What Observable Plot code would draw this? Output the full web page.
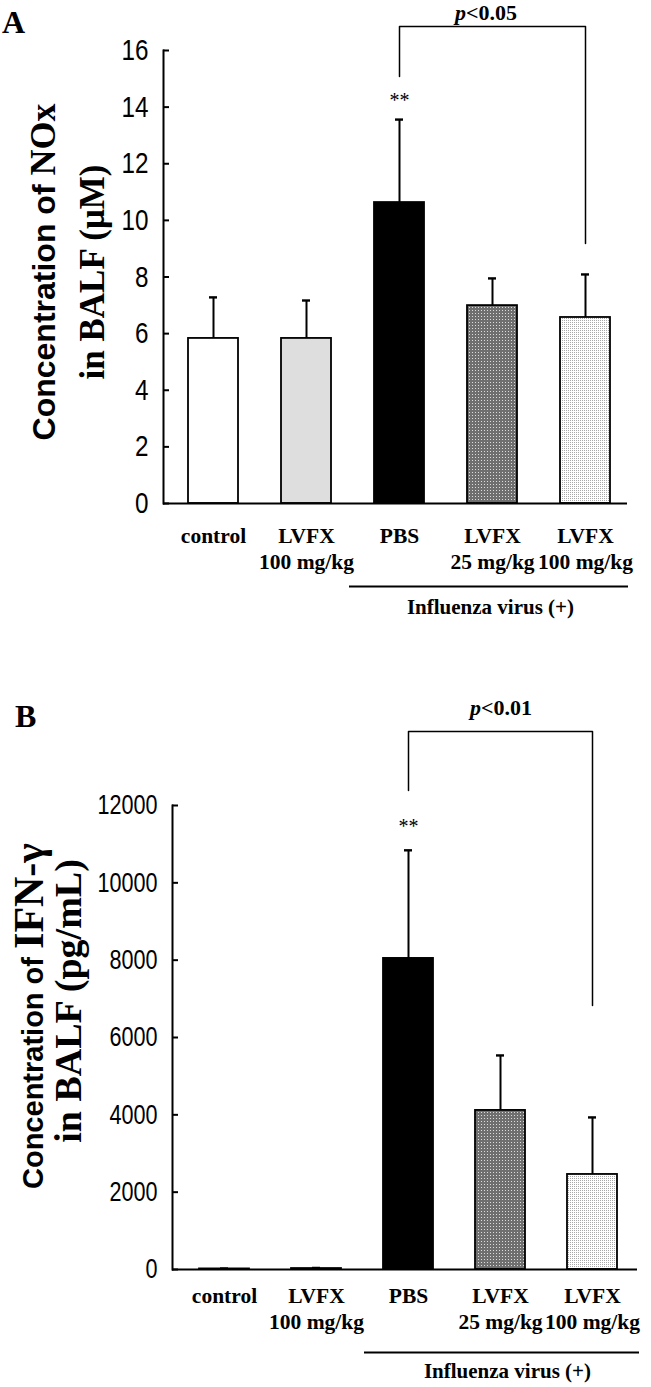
<!DOCTYPE html>
<html><head><meta charset="utf-8">
<script src="https://cdn.jsdelivr.net/npm/d3@7"></script>
<script src="https://cdn.jsdelivr.net/npm/@observablehq/plot@0.6"></script>
<style>
html,body{margin:0;padding:0;background:#fff;}
#chart{width:651px;height:1387px;overflow:hidden;background:#fff;}
svg{display:block}
</style></head><body><div id="chart"></div>
<script>
// ---- data ----
const groupIds = ["control", "LVFX100", "PBS", "LVFX25i", "LVFX100i"];
const groupLabels = ["control", "LVFX\n100 mg/kg", "PBS", "LVFX\n25 mg/kg", "LVFX\n100 mg/kg"];
const noxMean = [5.83, 5.83, 10.63, 6.99, 6.57];
const noxSD = [1.45, 1.34, 2.93, 0.96, 1.52];
const ifnMean = [15, 25, 8045, 4114, 2458];
const ifnSD = [10, 15, 2796, 1422, 1475];
const noxTicks = [0, 2, 4, 6, 8, 10, 12, 14, 16];
const ifnTicks = [0, 2000, 4000, 6000, 8000, 10000, 12000];
// significance brackets
const bracketNox = [{id: "PBS", v: 15.08}, {id: "PBS", v: 16.85}, {id: "LVFX100i", v: 16.85}, {id: "LVFX100i", v: 9.18}];
const bracketIfn = [{id: "PBS", v: 12390}, {id: "PBS", v: 13914}, {id: "LVFX100i", v: 13914}, {id: "LVFX100i", v: 6830}];
const starGroup = ["PBS"];
const virusSpan = [{from: "PBS", mid: "LVFX25i", to: "LVFX100i", label: "Influenza virus (+)"}];

// ---- styles ----
const serif = "'Liberation Serif','Times New Roman',Times,serif";
const sans = "'Liberation Sans',Arial,Helvetica,sans-serif";
const labelOf = Object.fromEntries(groupIds.map((id, i) => [id, groupLabels[i]]));

function defs(svg, key) {
  const d = d3.select(svg).insert("defs", ":first-child");
  const dk = d.append("pattern").attr("id", "dark" + key).attr("width", 3).attr("height", 3).attr("patternUnits", "userSpaceOnUse");
  dk.append("rect").attr("width", 3).attr("height", 3).attr("fill", "#6f6f6f");
  dk.append("rect").attr("x", 1).attr("y", 1).attr("width", 1).attr("height", 1).attr("fill", "#dcdcdc");
  const lt = d.append("pattern").attr("id", "light" + key).attr("width", 2).attr("height", 2).attr("patternUnits", "userSpaceOnUse");
  lt.append("rect").attr("width", 2).attr("height", 2).attr("fill", "#ffffff");
  lt.append("rect").attr("x", 0).attr("y", 0).attr("width", 1).attr("height", 1).attr("fill", "#a9a9a9");
}

function addText(svg, {x, y, rotate = 0, anchor = "middle", parts}) {
  const t = d3.select(svg).append("text")
    .attr("transform", `translate(${x},${y})` + (rotate ? ` rotate(${rotate})` : ""))
    .attr("text-anchor", anchor).attr("fill", "#000");
  for (const p of parts) {
    t.append("tspan").attr("font-family", p.family).attr("font-size", p.size)
      .attr("font-weight", p.weight || "bold").attr("font-style", p.style || "normal").text(p.text);
  }
}

// condense the y tick labels (the original uses a narrow gothic face)
function condenseTicks(svg, perChar) {
  d3.select(svg).selectAll('[aria-label="y-axis tick label"] text').each(function () {
    const s = this.textContent;
    this.setAttribute("textLength", s.length * perChar);
    this.setAttribute("lengthAdjust", "spacingAndGlyphs");
  });
}

function panel(c) {
  const fills = {control: "#ffffff", LVFX100: "#dedede", PBS: "#000000", LVFX25i: `url(#dark${c.key})`, LVFX100i: `url(#light${c.key})`};
  const data = groupIds.map((id, i) => ({id, v: c.mean[i], e: c.mean[i] + c.sd[i]}));
  const stars = data.filter(d => starGroup.includes(d.id));
  const svg = Plot.plot({
    width: 651, height: c.height,
    marginLeft: c.ml, marginRight: c.mr, marginTop: c.mt, marginBottom: c.mb,
    style: {background: "#fff", color: "#000", fontFamily: serif, overflow: "visible"},
    x: {type: "band", domain: groupIds, paddingInner: c.pi, paddingOuter: c.po, align: c.align, axis: null},
    y: {domain: c.ydomain, axis: null},
    color: {type: "identity"},
    marks: [
      Plot.barY(data, {x: "id", y: "v", fill: d => fills[d.id], stroke: "#000", strokeWidth: 1.8}),
      Plot.ruleX(data, {x: "id", y1: "v", y2: "e", strokeWidth: 2}),
      Plot.tickY(data, {x: "id", y: "e", strokeWidth: 2.4, insetLeft: 21, insetRight: 21}),
      Plot.axisY(c.ticks, {anchor: "left", tickSize: -6, tickPadding: 21, strokeWidth: 2, tickFormat: d => String(d), fontSize: c.tickFont, fontFamily: sans, label: null}),
      Plot.axisX({anchor: "bottom", tickSize: 0, tickPadding: c.xpad, tickFormat: id => labelOf[id], fontSize: 21.5, fontWeight: "bold", fontFamily: serif, lineHeight: c.lh, label: null}),
      Plot.frame({anchor: "left", strokeWidth: 2}),
      Plot.ruleY([0], {strokeWidth: 2}),
      Plot.line(c.bracket, {x: "id", y: "v", strokeWidth: 1.5}),
      Plot.text(stars, {x: "id", y: "e", text: () => "**", dy: c.starDy, fontSize: 20, fontFamily: serif}),
      Plot.ruleY(virusSpan, {x1: "from", x2: "to", y: () => 0, dy: 83, insetLeft: c.gInL, insetRight: c.gInR, strokeWidth: 1.8}),
      Plot.text(virusSpan, {x: "mid", y: () => 0, text: "label", dy: c.gTextDy, dx: c.gTextDx, fontSize: 21, fontWeight: "bold", fontFamily: serif})
    ]
  });
  defs(svg, c.key);
  condenseTicks(svg, c.charW);
  return svg;
}

const svgA = panel({
  key: "A", height: 640, ml: 163, mr: 24, mt: 50, mb: 137,
  pi: 0.465, po: 0.217, align: 0.6, ydomain: [0, 16], ticks: noxTicks, tickFont: 30, charW: 13.5,
  mean: noxMean, sd: noxSD, bracket: bracketNox, starDy: -19, xpad: 21, lh: 1.2,
  gInL: -25, gInR: -18, gTextDy: 104, gTextDx: -2
});
addText(svgA, {x: 2, y: 33, anchor: "start", parts: [{text: "A", family: serif, size: 32}]});
addText(svgA, {x: 486, y: 20, parts: [{text: "p", family: serif, size: 22, style: "italic"}, {text: "<0.05", family: serif, size: 22}]});
addText(svgA, {x: 55, y: 272, rotate: -90, parts: [{text: "Concentration of ", family: sans, size: 32}, {text: "NOx", family: serif, size: 36}]});
addText(svgA, {x: 104, y: 272, rotate: -90, parts: [{text: "in BALF (μM)", family: serif, size: 35}]});

const svgB = panel({
  key: "B", height: 747, ml: 172, mr: 14, mt: 165, mb: 118,
  pi: 0.461, po: 0.237, align: 0.57, ydomain: [0, 12000], ticks: ifnTicks, tickFont: 28, charW: 12,
  mean: ifnMean, sd: ifnSD, bracket: bracketIfn, starDy: -24, xpad: 14, lh: 1.25,
  gInL: -19, gInR: -22, gTextDy: 102, gTextDx: 7
});
addText(svgB, {x: 15, y: 87, anchor: "start", parts: [{text: "B", family: serif, size: 32}]});
addText(svgB, {x: 501, y: 75, parts: [{text: "p", family: serif, size: 22, style: "italic"}, {text: "<0.01", family: serif, size: 22}]});
addText(svgB, {x: 43, y: 376, rotate: -90, parts: [{text: "Concentration of ", family: sans, size: 29}, {text: "IFN-γ", family: serif, size: 42}]});
addText(svgB, {x: 81, y: 361, rotate: -90, parts: [{text: "in BALF (pg/mL)", family: serif, size: 38}]});

document.getElementById("chart").append(svgA, svgB);
</script></body></html>
